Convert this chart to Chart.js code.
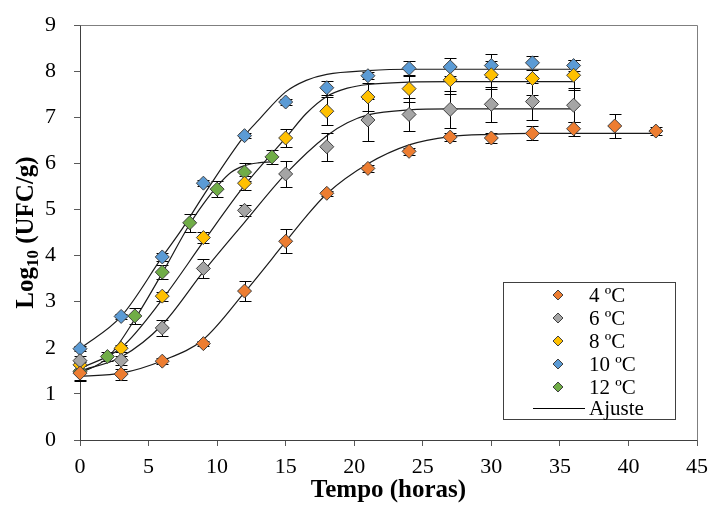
<!DOCTYPE html>
<html lang="pt">
<head>
    <meta charset="UTF-8">
    <title>Crescimento - Log10 UFC/g</title>
    <script src="https://cdn.jsdelivr.net/npm/chart.js@4.4.0/dist/chart.umd.min.js"></script>
    <style>
        body { margin: 0; background: #fff; }
        #wrap { width: 711px; height: 522px; }
    </style>
</head>
<body>
<div id="wrap">
    <canvas id="myChart" width="711" height="522"></canvas>
</div>

<script>
    var tempos = [0, 3, 6, 9, 12, 15, 18, 21, 24, 27, 30, 33, 36];
    var tempos4 = [0, 3, 6, 9, 12, 15, 18, 21, 24, 27, 30, 33, 36, 39, 42];
    var tempos12 = [0, 2, 4, 6, 8, 10, 12, 14];

    var log4 = [1.45, 1.43, 1.71, 2.09, 3.23, 4.31, 5.35, 5.89, 6.26, 6.57, 6.55, 6.65, 6.75, 6.81, 6.70];
    var err4 = [0.15, 0.12, 0.07, 0.05, 0.22, 0.26, 0.06, 0.08, 0.08, 0.08, 0.10, 0.15, 0.15, 0.25, 0.08];

    var log6 = [1.72, 1.73, 2.43, 3.72, 4.98, 5.77, 6.36, 6.94, 7.06, 7.17, 7.28, 7.34, 7.26];
    var err6 = [0.10, 0.10, 0.18, 0.20, 0.12, 0.29, 0.30, 0.45, 0.35, 0.40, 0.38, 0.40, 0.37];

    var log8 = [1.63, 1.99, 3.12, 4.39, 5.57, 6.55, 7.13, 7.44, 7.62, 7.81, 7.92, 7.84, 7.91];
    var err8 = [0.10, 0.08, 0.10, 0.12, 0.15, 0.20, 0.30, 0.30, 0.30, 0.30, 0.30, 0.35, 0.33];

    var log10 = [1.98, 2.68, 3.97, 5.57, 6.60, 7.33, 7.64, 7.90, 8.06, 8.09, 8.12, 8.18, 8.12];
    var err10 = [0.05, 0.05, 0.08, 0.06, 0.06, 0.07, 0.15, 0.08, 0.17, 0.20, 0.25, 0.15, 0.12];

    var log12 = [1.49, 1.81, 2.69, 3.64, 4.71, 5.44, 5.81, 6.14];
    var err12 = [0.20, 0.10, 0.18, 0.15, 0.20, 0.17, 0.20, 0.15];

    // --- fitted curves (Ajuste) ---
    var fitT4 = [0, 3, 6, 9, 12, 15, 16.5, 18, 21, 24, 27, 30, 33, 36, 39, 42];
    var fit4 = [1.38, 1.45, 1.72, 2.18, 3.20, 4.30, 4.85, 5.34, 5.99, 6.40, 6.58, 6.63, 6.65, 6.65, 6.65, 6.65];

    var fitT6 = [0, 3, 6, 9, 12, 15, 18, 19.5, 21, 24, 27, 30, 33, 36];
    var fit6 = [1.50, 1.80, 2.50, 3.65, 4.72, 5.77, 6.60, 6.88, 7.05, 7.16, 7.18, 7.18, 7.18, 7.18];

    var fitT8 = [0, 3, 6, 9, 12, 15, 16.5, 18, 19.5, 21, 24, 27, 30, 33, 36];
    var fit8 = [1.55, 2.00, 3.05, 4.30, 5.52, 6.55, 7.08, 7.45, 7.63, 7.71, 7.76, 7.77, 7.77, 7.77, 7.77];

    var fitT10 = [0, 3, 6, 7.5, 9, 12, 13, 15, 16.5, 18, 21, 24, 27, 30, 33, 36];
    var fit10 = [1.98, 2.68, 3.97, 4.60, 5.30, 6.60, 6.93, 7.55, 7.80, 7.93, 8.01, 8.04, 8.04, 8.04, 8.04, 8.04];

    var fitT12 = [0, 2, 4, 6, 8, 9, 10, 11, 12, 13, 14];
    var fit12 = [1.45, 1.78, 2.62, 3.62, 4.68, 5.12, 5.50, 5.80, 5.95, 6.01, 6.03];

    var serieNomes = ["4 ºC", "6 ºC", "8 ºC", "10 ºC", "12 ºC"];
    var serieCores = ["#ED7D31", "#A5A5A5", "#FFC000", "#5B9BD5", "#70AD47"];

    var eixoX = { min: 0, max: 45, step: 5 };
    var eixoY = { min: 0, max: 9, step: 1 };

    var fonte = "'Liberation Serif', 'Times New Roman', serif";

    function pontos(xs, ys) {
        var out = [];
        for (var i = 0; i < xs.length; i++) {
            out.push({ x: xs[i], y: ys[i] });
        }
        return out;
    }

    function serie(i, xs, ys, errs) {
        return {
            label: serieNomes[i],
            data: pontos(xs, ys),
            errors: errs,
            showLine: false,
            pointStyle: 'rectRot',
            pointRadius: 7,
            pointHoverRadius: 7,
            backgroundColor: serieCores[i],
            borderColor: '#404040',
            borderWidth: 1,
            clip: false,
            order: 0
        };
    }

    function ajuste(xs, ys) {
        return {
            label: 'Ajuste',
            data: pontos(xs, ys),
            showLine: true,
            pointRadius: 0,
            borderColor: '#1a1a1a',
            borderWidth: 1.2,
            cubicInterpolationMode: 'monotone',
            fill: false,
            order: 1
        };
    }

    // error bars, drawn through the chart scales
    var errorBars = {
        id: 'errorBars',
        beforeDatasetsDraw: function (chart) {
            var ctx = chart.ctx;
            var xs = chart.scales.x;
            var ys = chart.scales.y;
            ctx.save();
            ctx.strokeStyle = '#000';
            ctx.lineWidth = 1;
            chart.data.datasets.forEach(function (ds) {
                if (!ds.errors) return;
                ds.data.forEach(function (p, i) {
                    var x = Math.round(xs.getPixelForValue(p.x)) + 0.5;
                    var yt = Math.round(ys.getPixelForValue(p.y + ds.errors[i])) + 0.5;
                    var yb = Math.round(ys.getPixelForValue(p.y - ds.errors[i])) + 0.5;
                    ctx.beginPath();
                    ctx.moveTo(x, yt);
                    ctx.lineTo(x, yb);
                    ctx.moveTo(x - 6, yt);
                    ctx.lineTo(x + 6, yt);
                    ctx.moveTo(x - 6, yb);
                    ctx.lineTo(x + 6, yb);
                    ctx.stroke();
                });
            });
            ctx.restore();
        }
    };

    // frame on top/right, y title with subscript, legend box inside the plot
    var moldura = {
        id: 'moldura',
        afterDraw: function (chart) {
            var ctx = chart.ctx;
            var a = chart.chartArea;
            ctx.save();
            ctx.strokeStyle = '#7f7f7f';
            ctx.lineWidth = 1;
            ctx.beginPath();
            ctx.moveTo(Math.round(a.left) + 0.5, Math.round(a.top) + 0.5);
            ctx.lineTo(Math.round(a.right) + 0.5, Math.round(a.top) + 0.5);
            ctx.lineTo(Math.round(a.right) + 0.5, Math.round(a.bottom) + 0.5);
            ctx.stroke();

            // y axis title: Log10 (UFC/g) with real subscript
            var fBig = "bold 25px " + fonte;
            var fSub = "bold 17px " + fonte;
            ctx.font = fBig;
            var w1 = ctx.measureText('Log').width;
            var w3 = ctx.measureText(' (UFC/g)').width;
            ctx.font = fSub;
            var w2 = ctx.measureText('10').width;
            var total = w1 + w2 + w3;
            var cy = (a.top + a.bottom) / 2;
            ctx.translate(33, cy);
            ctx.rotate(-Math.PI / 2);
            ctx.fillStyle = '#000';
            ctx.textBaseline = 'alphabetic';
            ctx.textAlign = 'left';
            var sx = -total / 2;
            ctx.font = fBig;
            ctx.fillText('Log', sx, 0);
            ctx.font = fSub;
            ctx.fillText('10', sx + w1, 5);
            ctx.font = fBig;
            ctx.fillText(' (UFC/g)', sx + w1 + w2, 0);
            ctx.setTransform(1, 0, 0, 1, 0, 0);

            // legend
            var bx = 503, by = 282, bw = 172, bh = 137;
            ctx.fillStyle = '#fff';
            ctx.fillRect(bx, by, bw, bh);
            ctx.strokeStyle = '#404040';
            ctx.strokeRect(bx + 0.5, by + 0.5, bw, bh);

            ctx.font = "21px " + fonte;
            ctx.textBaseline = 'middle';
            ctx.textAlign = 'left';
            var y0 = 295, dy = 23;
            for (var i = 0; i < serieNomes.length; i++) {
                var ly0 = y0 + i * dy;
                ctx.beginPath();
                ctx.moveTo(558, ly0 - 5);
                ctx.lineTo(563, ly0);
                ctx.lineTo(558, ly0 + 5);
                ctx.lineTo(553, ly0);
                ctx.closePath();
                ctx.fillStyle = serieCores[i];
                ctx.fill();
                ctx.strokeStyle = '#404040';
                ctx.stroke();
                ctx.fillStyle = '#000';
                ctx.fillText(serieNomes[i], 589, ly0 + 1);
            }
            var ly = y0 + 5 * dy - 2;
            ctx.strokeStyle = '#000';
            ctx.beginPath();
            ctx.moveTo(533, ly + 0.5);
            ctx.lineTo(585, ly + 0.5);
            ctx.stroke();
            ctx.fillStyle = '#000';
            ctx.fillText('Ajuste', 589, ly + 1);
            ctx.restore();
        }
    };

    var ctx = document.getElementById('myChart');
    var myChart = new Chart(ctx, {
        type: 'scatter',
        data: {
            datasets: [
                serie(0, tempos4, log4, err4),
                serie(1, tempos, log6, err6),
                serie(2, tempos, log8, err8),
                serie(3, tempos, log10, err10),
                serie(4, tempos12, log12, err12),
                ajuste(fitT4, fit4),
                ajuste(fitT6, fit6),
                ajuste(fitT8, fit8),
                ajuste(fitT10, fit10),
                ajuste(fitT12, fit12)
            ]
        },
        options: {
            responsive: false,
            animation: false,
            events: [],
            layout: { padding: { left: 0, top: 25, right: 14, bottom: 0 } },
            plugins: {
                legend: { display: false },
                tooltip: { enabled: false }
            },
            scales: {
                x: {
                    type: 'linear',
                    min: eixoX.min,
                    max: eixoX.max,
                    afterFit: function (scale) {
                        scale.height = 82;
                        scale.paddingLeft = 0;
                        scale.paddingRight = 0;
                    },
                    ticks: {
                        stepSize: eixoX.step,
                        color: '#000',
                        padding: 8,
                        maxRotation: 0,
                        font: { family: fonte, size: 22 }
                    },
                    grid: { drawOnChartArea: false, drawTicks: true, tickLength: 6, color: '#595959' },
                    border: { color: '#404040', width: 1 },
                    title: {
                        display: true,
                        text: 'Tempo (horas)',
                        color: '#000',
                        padding: { top: 0, bottom: 16 },
                        font: { family: fonte, size: 25, weight: 'bold' }
                    }
                },
                y: {
                    min: eixoY.min,
                    max: eixoY.max,
                    afterFit: function (scale) {
                        scale.width = 80;
                        scale.paddingTop = 0;
                        scale.paddingBottom = 0;
                    },
                    ticks: {
                        stepSize: eixoY.step,
                        color: '#000',
                        padding: 18,
                        font: { family: fonte, size: 22 }
                    },
                    grid: { drawOnChartArea: false, drawTicks: true, tickLength: 6, color: '#595959' },
                    border: { color: '#404040', width: 1 }
                }
            }
        },
        plugins: [errorBars, moldura]
    });
</script>
</body>
</html>
